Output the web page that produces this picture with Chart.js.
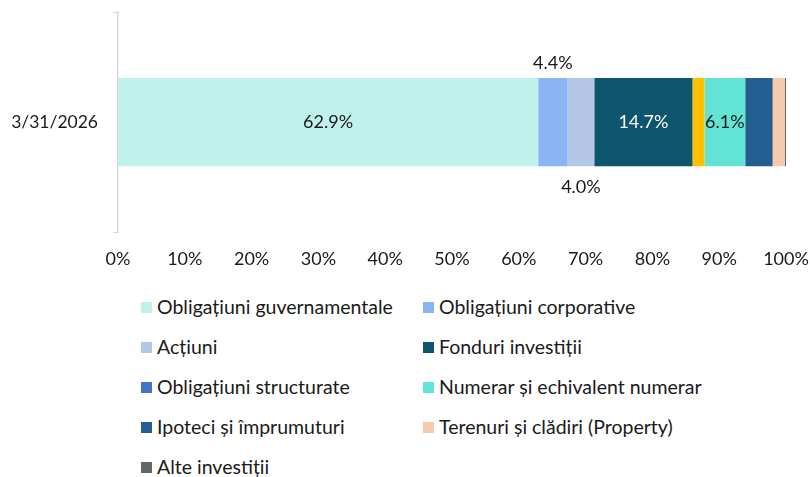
<!DOCTYPE html>
<html>
<head>
<meta charset="utf-8">
<script src="https://cdn.jsdelivr.net/npm/chart.js@4/dist/chart.umd.min.js"></script>
<style>
  body { margin: 0; background: #fff; font-family: Lato, "Open Sans", sans-serif; }
  #wrap { position: relative; width: 810px; height: 278px; }
  #legend { position: absolute; left: 0; top: 295px; width: 810px; }
  .item { position: absolute; display: flex; align-items: center; font-size: 19.5px; line-height: 24px; color: #1a1a1a; white-space: nowrap; }
  .box { width: 11px; height: 11px; margin-right: 5px; }
</style>
</head>
<body>
<div id="wrap"><canvas id="myChart"></canvas></div>
<div id="legend"></div>
<script>
const ctx = document.getElementById('myChart').getContext('2d');

const labels = ["3/31/2026"];

const seriesNames = [
    "Obligațiuni guvernamentale",
    "Obligațiuni corporative",
    "Acțiuni",
    "Fonduri investiții",
    "Obligațiuni structurate",
    "",
    "Numerar și echivalent numerar",
    "Ipoteci și împrumuturi",
    "Terenuri și clădiri (Property)",
    "Alte investiții",
];
const seriesValues = [62.9, 4.4, 4.0, 14.7, 0, 1.8, 6.1, 4.1, 1.8, 0.2];
const seriesColors = ["#C0F1EC", "#8AB5F4", "#B5C7E6", "#0D556D", "#4472C4", "#FFC000", "#63E3D5", "#245D8F", "#F7CAAC", "#666666"];

// where each label goes: in = inside bar, up = above, down = below, none
const labelPos = ["in", "up", "down", "in", "none", "none", "in", "none", "none", "none"];
const labelColor = ["#1a1a1a", "#1a1a1a", "#1a1a1a", "#ffffff", "", "", "#1a1a1a", "", "", ""];

const xTicks = [0, 10, 20, 30, 40, 50, 60, 70, 80, 90, 100];

const datasets = seriesNames.map((name, i) => ({
    label: name,
    data: [seriesValues[i]],
    backgroundColor: seriesColors[i],
    borderWidth: 0,
    categoryPercentage: 0.4,
    barPercentage: 1,
}));

// draw value labels
const valueLabels = {
    id: 'valueLabels',
    afterDatasetsDraw(chart) {
        const c = chart.ctx;
        c.save();
        c.font = '18px Lato, "Open Sans", sans-serif';
        c.textAlign = 'center';
        c.textBaseline = 'middle';
        chart.data.datasets.forEach((ds, i) => {
            if (labelPos[i] === 'none') return;
            const bar = chart.getDatasetMeta(i).data[0];
            const x = (bar.x + bar.base) / 2;
            let y = bar.y;
            if (labelPos[i] === 'up') y = bar.y - bar.height / 2 - 15;
            if (labelPos[i] === 'down') y = bar.y + bar.height / 2 + 21;
            c.fillStyle = labelColor[i];
            c.fillText(ds.data[0].toFixed(1) + '%', x, y);
        });
        c.restore();
    }
};

const config = {
    type: "bar",
    data: { labels, datasets },
    options: {
        indexAxis: 'y',
        responsive: true,
        maintainAspectRatio: false,
        animation: false,
        layout: { padding: { top: 12, right: 0, left: 0, bottom: 0 } },
        plugins: {
            legend: { display: false },
            tooltip: { enabled: false },
        },
        scales: {
            x: {
                stacked: true,
                min: 0,
                max: 100,
                afterBuildTicks: (axis) => { axis.ticks = xTicks.map(v => ({ value: v })); },
                afterFit: (axis) => { axis.paddingRight = 24; axis.paddingLeft = 0; },
                grid: { display: false },
                border: { display: false },
                ticks: {
                    color: '#1a1a1a',
                    font: { family: 'Lato', size: 18 },
                    padding: 8,
                    maxRotation: 0,
                    callback: (v) => v + '%',
                },
            },
            y: {
                stacked: true,
                afterFit: (axis) => { axis.width = 118; axis.paddingTop = 0; axis.paddingBottom = 0; },
                grid: { drawOnChartArea: false, drawTicks: true, tickLength: 5, color: '#d9d9d9', offset: true },
                border: { color: '#d9d9d9', width: 1.5 },
                ticks: {
                    color: '#1a1a1a',
                    font: { family: 'Lato', size: 17.5 },
                    padding: 15,
                },
            },
        },
    },
    plugins: [valueLabels],
};

const myChart = new Chart(ctx, config);

// legend in two columns, unnamed series left out
const legend = document.getElementById('legend');
let n = 0;
seriesNames.forEach((name, i) => {
    if (!name) return;
    const el = document.createElement('div');
    el.className = 'item';
    el.style.left = (n % 2 === 0 ? 141 : 423) + 'px';
    el.style.top = (Math.floor(n / 2) * 40) + 'px';
    el.innerHTML = '<span class="box" style="background:' + seriesColors[i] + '"></span>' + name;
    legend.appendChild(el);
    n++;
});
</script>
</body>
</html>
